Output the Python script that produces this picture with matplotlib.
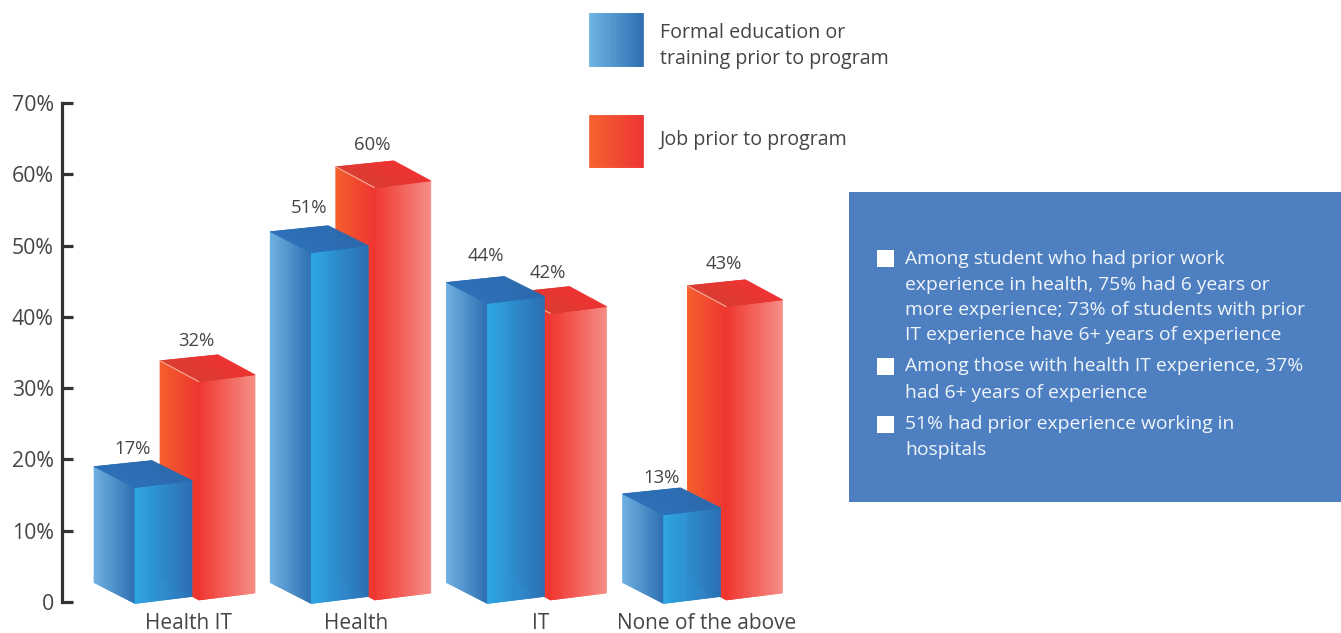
import matplotlib
matplotlib.use("Agg")
import matplotlib.pyplot as plt
import numpy as np
from matplotlib.collections import PolyCollection
from matplotlib.colors import to_rgb
from matplotlib.patches import Rectangle

# ---- data ----
categories = ["Health IT", "Health", "IT", "None of the above"]
education = [17, 51, 44, 13]
job = [32, 60, 42, 43]
y_ticks = [0, 10, 20, 30, 40, 50, 60, 70]
y_labels = ["0", "10%", "20%", "30%", "40%", "50%", "60%", "70%"]
legend_labels = ["Formal education or", "training prior to program", "Job prior to program"]
notes = [
    ["Among student who had prior work", "experience in health, 75% had 6 years or",
     "more experience; 73% of students with prior", "IT experience have 6+ years of experience"],
    ["Among those with health IT experience, 37%", "had 6+ years of experience"],
    ["51% had prior experience working in", "hospitals"],
]
# small hand placement corrections (px)
cat_nudge = [95, 86, 94, 84]
group_lift = [0, 3, 0, 0]
edu_label_dy = [12, 18, 20, 10]
job_label_dy = [14, 16, 14, 16]

W, H = 1341, 633
FONT = "Open Sans"
TXT = "#454545"
fig = plt.figure(figsize=(W / 100, H / 100), dpi=100)

# pixel overlay for legend + panel
ov = fig.add_axes([0, 0, 1, 1], zorder=0)
ov.set_xlim(0, W); ov.set_ylim(H, 0); ov.axis("off")

# main axes: y 0 at px 602, 70 at px 103; x pixel-scaled
L, R, Y0, Y70 = 62, 800, 602, 103
ax = fig.add_axes([L / W, 1 - Y0 / H, (R - L) / W, (Y0 - Y70) / H], zorder=1)
ax.patch.set_alpha(0)
ax.set_xlim(L, R); ax.set_ylim(0, 70)
PY = (Y0 - Y70) / 70.0           # px per percent on the axis
K = 6.82 / PY                    # drawn bar height per percent


def px(d):
    return d / PY


def strips(a, A, B, C, D, c0, c1, z, n=60):
    """Quad whose gradient runs from edge A-D to edge B-C."""
    A, B, C, D = map(np.array, (A, B, C, D))
    c0, c1 = np.array(to_rgb(c0)), np.array(to_rgb(c1))
    ts = np.linspace(0, 1, n + 1)
    polys, cols = [], []
    for t0, t1 in zip(ts[:-1], ts[1:]):
        polys.append([A + (B - A) * t0, A + (B - A) * t1, D + (C - D) * t1, D + (C - D) * t0])
        cols.append(c0 + (c1 - c0) * (t0 + t1) / 2)
    a.add_collection(PolyCollection(polys, facecolors=cols, edgecolors=cols,
                                    linewidths=0.5, zorder=z, clip_on=False))


def box(x, v, base, lift, side_w, front_w, sc0, sc1, fc0, fc1, tc0, tc1, z, highlight=False):
    h = v * K + px(lift)
    yfb = -px(base)                     # front-left bottom
    yft = yfb + h
    ybb = yfb + px(21)                  # back-left bottom
    ybt = ybb + h
    yrb = yfb + px(7)                   # front-right bottom
    yrt = yrb + h
    xf, xr = x + side_w, x + side_w + front_w
    xb = x + 58
    ytop = yrt + px(20)
    strips(ax, (x, ybb), (xf, yfb), (xf, yft), (x, ybt), sc0, sc1, z)
    strips(ax, (xf, yfb), (xr, yrb), (xr, yrt), (xf, yft), fc0, fc1, z)
    strips(ax, (x, ybt), (xb, ytop), (xr, yrt), (xf, yft), tc0, tc1, z, n=30)
    if highlight:
        ax.plot([x, xf], [ybt, yft], color="#F9A58F", lw=0.9, zorder=z + 0.1,
                solid_capstyle="butt", clip_on=False)
    return xb, ytop


BLUE = dict(sc0="#70B2E2", sc1="#2E70B2", fc0="#2CA6E3", fc1="#2A70B6", tc0="#2A6FB8", tc1="#2A6AB0")
RED = dict(sc0="#F4602D", sc1="#EE3530", fc0="#F0342E", fc1="#F58C84", tc0="#D93A30", tc1="#EE3030")

for i, (e, j) in enumerate(zip(education, job)):
    # red first, blue overlaps it
    xb, yt = box(160 + 175.8 * i, j, -2, group_lift[i], 39, 56, z=2 + i, highlight=True, **RED)
    ax.text(xb - 22, yt + px(job_label_dy[i]), f"{j}%", ha="center", va="center",
            fontsize=13.3, family=FONT, color=TXT, zorder=10, clip_on=False)
    xb, yt = box(94 + 176.2 * i, e, 1.5, group_lift[i], 41, 57, z=2.5 + i, **BLUE)
    ax.text(xb - 19, yt + px(edu_label_dy[i]), f"{e}%", ha="center", va="center",
            fontsize=13.3, family=FONT, color=TXT, zorder=10, clip_on=False)

# axes styling
for s in ["top", "right", "bottom"]:
    ax.spines[s].set_visible(False)
ax.spines["left"].set_linewidth(2.3)
ax.spines["left"].set_color("#333333")
ax.set_yticks(y_ticks)
ax.set_yticklabels(y_labels, family=FONT, fontsize=15.3, color=TXT)
ax.tick_params(axis="y", direction="in", length=8, width=2.3, color="#333333", pad=6)
ax.set_xticks([94 + 176.2 * i + n for i, n in enumerate(cat_nudge)])
ax.set_xticklabels(categories, family=FONT, fontsize=15, color=TXT)
ax.tick_params(axis="x", length=0, pad=8)

# legend swatches and text
strips(ov, (589, 66), (643, 66), (643, 13), (589, 13), "#6CB4E4", "#2B6CB0", 1)
strips(ov, (589, 167), (643, 167), (643, 115), (589, 115), "#F4622C", "#EE3030", 1)
for t, y in zip(legend_labels, [33, 59, 140]):
    ov.text(660, y, t, family=FONT, fontsize=14.15, color=TXT, va="center")

# information panel
ov.add_patch(Rectangle((849, 192), 492, 310, fc="#4E80C1", ec="none"))
square_y = [250, 358, 416]
line_y = [[259, 285, 310, 335], [366, 393], [424, 450]]
for sy, lines, ys in zip(square_y, notes, line_y):
    ov.add_patch(Rectangle((877, sy), 17, 17, fc="white", ec="none"))
    for t, y in zip(lines, ys):
        ov.text(905, y, t, family=FONT, fontsize=13.9, color="#F0F5FB", va="center")

fig.savefig("out.png", dpi=100, facecolor="white")
